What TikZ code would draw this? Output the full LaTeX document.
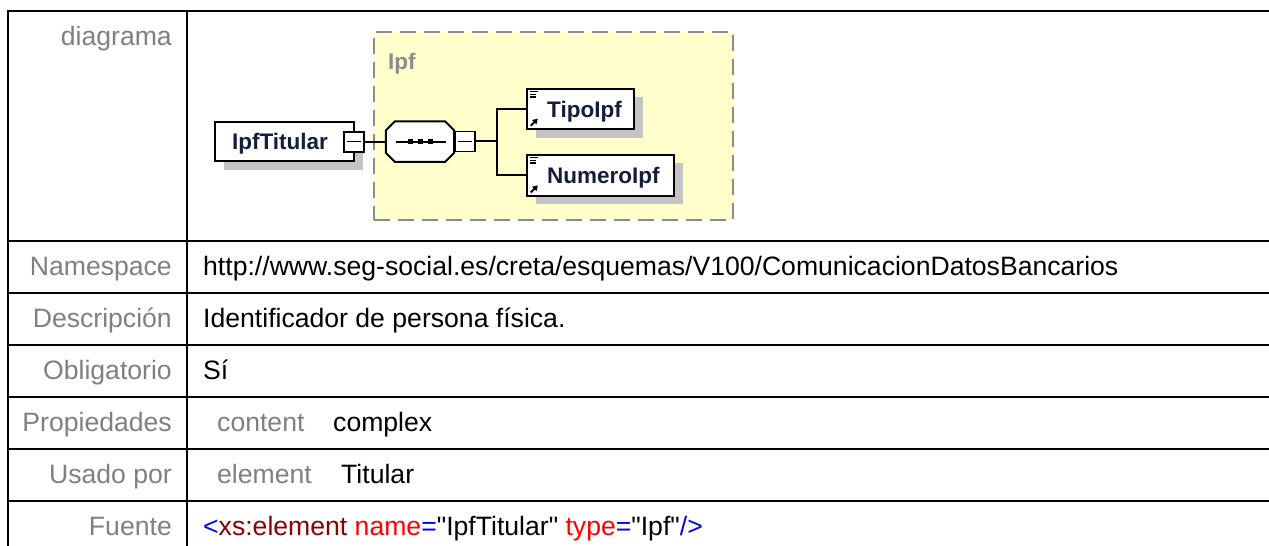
\documentclass[tikz,border=0pt]{standalone}
\usepackage{fontspec}
\setmainfont{Liberation Sans}[Ligatures=TeXOff]
\newfontfamily\dgfont{Liberation Sans}
\usetikzlibrary{arrows.meta,calc}
\definecolor{lblgray}{HTML}{808080}
\definecolor{shadowgray}{HTML}{C4C4C4}
\definecolor{boxyellow}{HTML}{FFFFCC}
\definecolor{dashgray}{HTML}{8C8C8C}
\definecolor{navy}{HTML}{141E3C}
\definecolor{xmlblue}{HTML}{0000FF}
\definecolor{xmldark}{HTML}{8B0000}
\definecolor{xmlred}{HTML}{FF0000}
\begin{document}
\begin{tikzpicture}[x=1pt,y=-1pt,
  tline/.style={line width=2pt,draw=black},
  lbl/.style={inner sep=0pt,anchor=base east,text=lblgray,font=\fontsize{26.6}{30}\selectfont},
  val/.style={inner sep=0pt,anchor=base west,text=black,font=\fontsize{26.6}{30}\selectfont},
  minusbox/.style={draw=black,fill=white,line width=1.8pt,minimum size=20pt,inner sep=0pt},
  dtext/.style={inner sep=0pt,text=navy,font=\dgfont\bfseries\fontsize{22.5}{24}\selectfont},
  conn/.style={draw=black,line width=2pt},
  ipfbox/.style={draw=dashgray,fill=boxyellow,line width=2pt,dash pattern=on 16pt off 8pt,inner sep=0pt}]
\path[use as bounding box] (0,0) rectangle (1269,546);
\clip (0,0) rectangle (1269,546);
\fill[white] (0,0) rectangle (1269,546);
% table
\draw[tline] (8,548) -- (8,11) -- (1272,11);
\draw[tline] (187,11) -- (187,548);
\foreach \yy in {240.7,292.7,345,396.7,449,500.7}
  \draw[tline] (8,\yy) -- (1272,\yy);
\node[lbl] (ldiag) at (172,45) {diagrama};
\node[lbl] (lns) at (172,275.7) {Namespace};
\node[lbl] (ldesc) at (172,327.8) {Descripción};
\node[lbl] (lobl) at (172,379.8) {Obligatorio};
\node[lbl] (lprop) at (172,431.8) {Propiedades};
\node[lbl] (luso) at (172,483.8) {Usado por};
\node[lbl] (lfue) at (172,535.7) {Fuente};
\node[val] (vns) at (203,275.7) {http://www.seg-social.es/creta/esquemas/V100/ComunicacionDatosBancarios};
\node[val] (vdesc) at (203,327.8) {Identificador de persona física.};
\node[val] (vobl) at (203,379.8) {Sí};
\node[val,text=lblgray] (kprop) at (217,431.8) {content};
\node[val] (vprop) at (333,431.8) {complex};
\node[val,text=lblgray] (kuso) at (217,483.8) {element};
\node[val] (vuso) at (341,483.8) {Titular};
\node[val] (vfue) at (203,535.7) {\textcolor{xmlblue}{<}\textcolor{xmldark}{xs:element} \textcolor{xmlred}{name}\textcolor{xmlblue}{=}"IpfTitular" \textcolor{xmlred}{type}\textcolor{xmlblue}{=}"Ipf"\textcolor{xmlblue}{/>}};
% diagram: complex type box
\node[ipfbox,minimum width=359pt,minimum height=188pt] (ipf) at (553.5,126) {};
\node[dtext,text=dashgray,anchor=base west] (ipflbl) at (388,69) {Ipf};
% element IpfTitular
\node[minimum width=139pt,minimum height=39.3pt,inner sep=0pt] (tit) at (284.5,141.4) {};
\fill[shadowgray] ($(tit.north west)+(9,9)$) rectangle ($(tit.south east)+(9,9)$);
\draw[line width=2pt,fill=white] (tit.north west) rectangle (tit.south east);
\node[dtext,anchor=base] (titlbl) at (280,149.4) {IpfTitular};
\node[minusbox] (m1) at (354,141.6) {};
\draw[line width=1.6pt] ($(m1.center)+(-7,0)$) -- ($(m1.center)+(7,0)$);
% sequence compositor
\node[minimum width=68pt,minimum height=40pt,inner sep=0pt] (seq) at (420,141.6) {};
\def\octpath{($(seq.north west)+(9,0)$) -- ($(seq.north east)+(-9,0)$) -- ($(seq.north east)+(0,9)$) -- ($(seq.south east)+(0,-9)$) -- ($(seq.south east)+(-9,0)$) -- ($(seq.south west)+(9,0)$) -- ($(seq.south west)+(0,-9)$) -- ($(seq.north west)+(0,9)$) -- cycle}
\begin{scope}[shift={(8,8)}]
  \fill[shadowgray] \octpath;
\end{scope}
\draw[line width=2pt,fill=white] \octpath;
\draw[line width=1.8pt] ($(seq.west)+(10,0)$) -- ($(seq.east)+(-8,0)$);
\foreach \dx in {-9.5,0.5,10.5}
  \fill ($(seq.center)+(\dx,0)+(-2.8,-2.8)$) rectangle ($(seq.center)+(\dx,0)+(2.8,2.8)$);
\node[minusbox] (m2) at (465,141.4) {};
\draw[line width=1.6pt] ($(m2.center)+(-7,0)$) -- ($(m2.center)+(7,0)$);
% children
\node[minimum width=107pt,minimum height=40pt,inner sep=0pt] (tp) at (580.5,109) {};
\node[minimum width=147pt,minimum height=40.7pt,inner sep=0pt] (np) at (600.5,175.35) {};
\foreach \n in {tp,np} {
  \fill[shadowgray] ($(\n.north west)+(9,8.5)$) rectangle ($(\n.south east)+(9,8.5)$);
  \draw[line width=2pt,fill=white] (\n.north west) rectangle (\n.south east);
  \foreach \dy/\len in {3/8,5.6/6.5,8.2/6.5}
    \draw[line width=1.2pt] ($(\n.north west)+(3,\dy)$) -- ++(\len,0);
  \draw[line width=2pt,-{Triangle[length=5pt,width=6pt]}] ($(\n.south west)+(4,-3.5)$) -- ($(\n.south west)+(11,-10.5)$);
}
\node[dtext,anchor=base west] (tplbl) at (547,117) {TipoIpf};
\node[dtext,anchor=base west] (nplbl) at (547,183.4) {NumeroIpf};
% connectors
\coordinate (br) at (497,141.4);
\draw[conn] (m1.east) -- (seq.west);
\draw[conn] (m2.east) -- (br);
\draw[conn] (tp.west) -| (br) |- (np.west);
\end{tikzpicture}
\end{document}
